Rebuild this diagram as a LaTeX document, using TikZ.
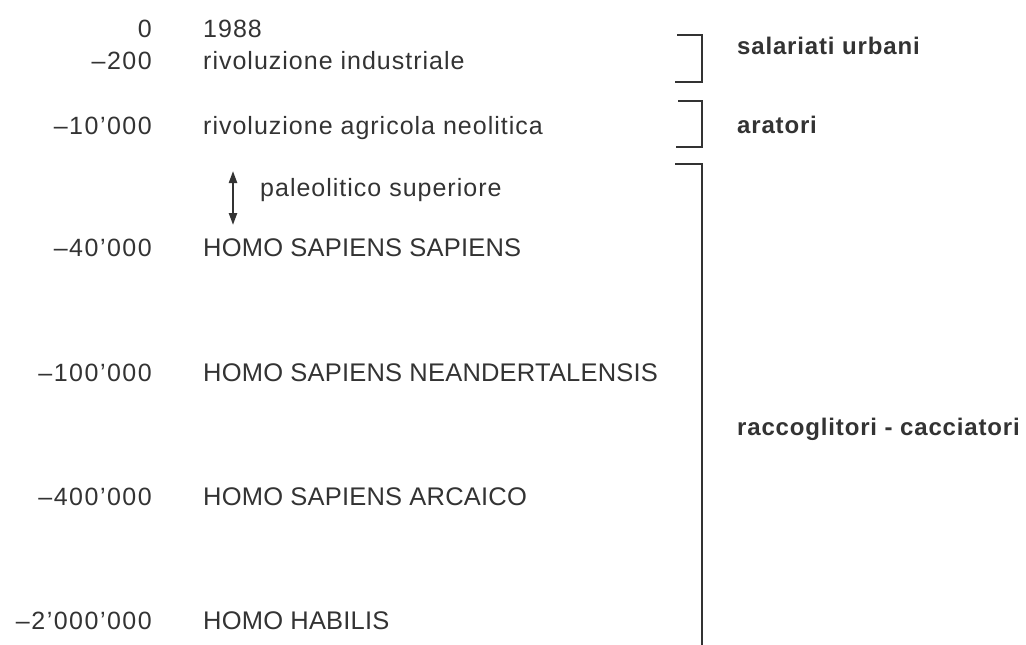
\documentclass[tikz,border=0pt]{standalone}
\usepackage{fontspec}
\setmainfont{Liberation Sans}
\newfontfamily\lowfont[LetterSpace=4]{Liberation Sans}
\newfontfamily\capfont[LetterSpace=0.8]{Liberation Sans}
\newfontfamily\numfont[LetterSpace=6]{Liberation Sans}
\newfontfamily\boldfont[LetterSpace=3.5]{Liberation Sans Bold}
\usetikzlibrary{arrows.meta}
\definecolor{ink}{HTML}{333333}
\tikzset{
  num/.style={anchor=base east, inner sep=0pt, text=ink, font=\numfont\fontsize{25}{29}\selectfont},
  evt/.style={anchor=base west, inner sep=0pt, text=ink, font=\lowfont\fontsize{25}{29}\selectfont},
  cevt/.style={anchor=base west, inner sep=0pt, text=ink, font=\capfont\fontsize{25.5}{29}\selectfont},
  grp/.style={anchor=base west, inner sep=0pt, text=ink, font=\boldfont\fontsize{24}{28}\selectfont},
  brk/.style={draw=ink, line width=2pt},
  span/.style={draw=ink, line width=2.2pt, {Triangle[length=12pt,width=8pt]}-{Triangle[length=12pt,width=8pt]}}
}
\begin{document}
\begin{tikzpicture}[x=1pt,y=-1pt]
\useasboundingbox (0,0) rectangle (1026,645);
% dates
\node[num] (n1) at (152,37) {0};
\node[num] (n2) at (152,69) {–200};
\node[num] (n3) at (152,134) {–10’000};
\node[num] (n4) at (152,256) {–40’000};
\node[num] (n5) at (152,381) {–100’000};
\node[num] (n6) at (152,505) {–400’000};
\node[num] (n7) at (152,629) {–2’000’000};
% events
\node[evt] (e1) at (203,37) {1988};
\node[evt] (e2) at (203,69) {rivoluzione industriale};
\node[evt] (e3) at (203,134) {rivoluzione agricola neolitica};
\node[cevt] (e4) at (203,256) {HOMO SAPIENS SAPIENS};
\node[cevt] (e5) at (203,381) {HOMO SAPIENS NEANDERTALENSIS};
\node[cevt] (e6) at (203,505) {HOMO SAPIENS ARCAICO};
\node[cevt] (e7) at (203,629) {HOMO HABILIS};
\node[evt] (pal) at (260,196) {paleolitico superiore};
% arrow
\coordinate (at) at (233,171);
\coordinate (ab) at (233,225);
\draw[span] (at) -- (ab);
% brackets
\coordinate (b1a) at (677,35); \coordinate (b1b) at (702,35);
\coordinate (b1c) at (702,82); \coordinate (b1d) at (675,82);
\draw[brk] (b1a) -- (b1b) -- (b1c) -- (b1d);
\coordinate (b2a) at (678,101); \coordinate (b2b) at (702,101);
\coordinate (b2c) at (702,147); \coordinate (b2d) at (676,147);
\draw[brk] (b2a) -- (b2b) -- (b2c) -- (b2d);
\coordinate (b3a) at (675,164); \coordinate (b3b) at (702,164);
\coordinate (b3c) at (702,646);
\draw[brk] (b3a) -- (b3b) -- (b3c);
% group labels
\node[grp] (g1) at (737,54) {salariati urbani};
\node[grp] (g2) at (737,133) {aratori};
\node[grp] (g3) at (737,435) {raccoglitori - cacciatori};
\end{tikzpicture}
\end{document}
